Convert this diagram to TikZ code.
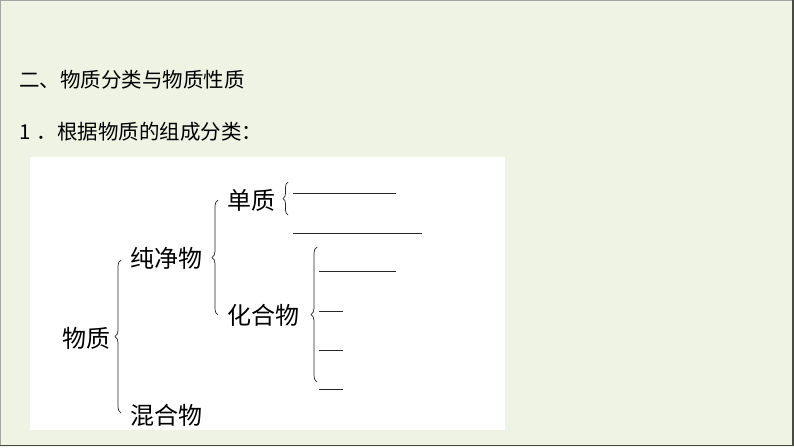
\documentclass[tikz,border=0pt]{standalone}
\usepackage{fontspec}
\setmainfont{Liberation Serif}
\newfontfamily\cjk{Noto Sans CJK SC}
\usetikzlibrary{decorations.pathreplacing}
\definecolor{bgpage}{HTML}{EEF3E3}
\definecolor{edgegray}{HTML}{4A4A44}
\tikzset{
  titletext/.style={inner sep=0pt, anchor=west, font=\cjk\fontsize{20.5}{24}\selectfont},
  treetext/.style={inner sep=0pt, anchor=west, font=\cjk\fontsize{24}{28}\selectfont},
  bracestyle/.style={draw=black!85, line width=0.7pt, decorate, decoration={brace, amplitude=#1}},
  blank/.style={draw=black!85, line width=0.8pt},
}
\begin{document}
\begin{tikzpicture}[x=1pt,y=-1pt]
\useasboundingbox (0,0) rectangle (794,447);
\fill[bgpage] (0,0) rectangle (794,447);
\draw[edgegray!50, line width=0.8pt] (0.5,446) -- (0.5,0.5) -- (793,0.5);
\draw[edgegray, line width=1.5pt] (793,0) -- (793,445.5) -- (0,445.5);
\fill[white] (30,157) rectangle (505,430);

\node[titletext] (title) at (19,80) {二、物质分类与物质性质};
\node[titletext] (sub) at (19,132) {1\hspace{6pt}．根据物质的组成分类：};

\node[treetext] (wz) at (62,338) {物质};
\node[treetext] (cjw) at (130,258) {纯净物};
\node[treetext] (hhw) at (130,415) {混合物};
\node[treetext] (dz) at (227,200) {单质};
\node[treetext] (hhw2) at (227,315) {化合物};

% brace for 物质
\coordinate (b1s) at (121,413);
\coordinate (b1e) at (121,260);
\draw[bracestyle=6pt] (b1s) -- (b1e);
% brace for 纯净物
\coordinate (b2s) at (218,315);
\coordinate (b2e) at (218,200);
\draw[bracestyle=6pt] (b2s) -- (b2e);
% brace for 单质
\coordinate (b3s) at (288,215);
\coordinate (b3e) at (288,182);
\draw[bracestyle=5pt] (b3s) -- (b3e);
% brace for 化合物
\coordinate (b4s) at (317,382);
\coordinate (b4e) at (317,247);
\draw[bracestyle=6pt] (b4s) -- (b4e);

% blanks
\coordinate (l1a) at (293,193); \coordinate (l1b) at (396,193);
\coordinate (l2a) at (293,233); \coordinate (l2b) at (422,233);
\coordinate (l3a) at (319,271); \coordinate (l3b) at (396,271);
\coordinate (l4a) at (319,311); \coordinate (l4b) at (343,311);
\coordinate (l5a) at (319,350); \coordinate (l5b) at (343,350);
\coordinate (l6a) at (319,389); \coordinate (l6b) at (343,389);
\draw[blank] (l1a) -- (l1b);
\draw[blank] (l2a) -- (l2b);
\draw[blank] (l3a) -- (l3b);
\draw[blank] (l4a) -- (l4b);
\draw[blank] (l5a) -- (l5b);
\draw[blank] (l6a) -- (l6b);
\end{tikzpicture}
\end{document}
